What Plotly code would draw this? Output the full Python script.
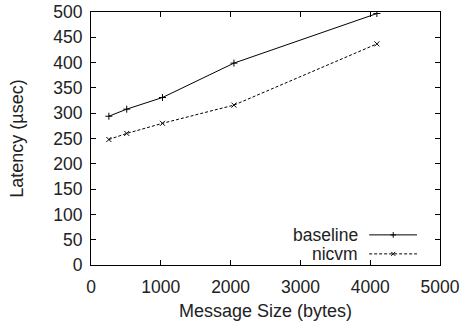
import plotly.graph_objects as go

sizes = [256, 512, 1024, 2048, 4096]
baseline = [294, 308, 331, 399, 497]
nicvm = [248, 260, 280, 316, 437]
series_names = ["baseline", "nicvm"]

FONT = "Liberation Sans, Arial, sans-serif"
FS = 17.5
FT = 18

fig = go.Figure()
fig.add_trace(go.Scatter(x=sizes, y=baseline, mode="lines+markers", name=series_names[0],
                         line=dict(color="black", width=1),
                         marker=dict(symbol="cross-thin", size=5, line=dict(color="black", width=1))))
fig.add_trace(go.Scatter(x=sizes, y=nicvm, mode="lines+markers", name=series_names[1],
                         line=dict(color="black", width=1, dash="3px,2px"),
                         marker=dict(symbol="x-thin", size=5, line=dict(color="black", width=1))))

# gnuplot-style legend (text left, sample right) on an overlay axis in [0,1]
leg_y = [0.119, 0.044]
dashes = ["solid", "3px,2px"]
symbols = ["cross-thin", "x-thin"]
for i, name in enumerate(series_names):
    fig.add_trace(go.Scatter(x=[0.797, 0.934], y=[leg_y[i]] * 2, xaxis="x2", yaxis="y2",
                             mode="lines", showlegend=False, hoverinfo="skip",
                             line=dict(color="black", width=1, dash=dashes[i])))
    fig.add_trace(go.Scatter(x=[0.866], y=[leg_y[i]], xaxis="x2", yaxis="y2",
                             mode="markers", showlegend=False, hoverinfo="skip",
                             marker=dict(symbol=symbols[i], size=4, line=dict(color="black", width=1))))
    fig.add_annotation(x=0.772, y=leg_y[i], xref="x2", yref="y2", text=name, showarrow=False,
                       xanchor="right", yanchor="middle", font=dict(family=FONT, size=FS, color="#222"))

axis_common = dict(showgrid=False, zeroline=False, showline=True, linecolor="black", linewidth=1,
                   mirror="ticks", ticks="inside", ticklen=5, tickcolor="black", automargin=False,
                   tickfont=dict(family=FONT, size=FS, color="#222"))
fig.update_layout(
    width=463, height=327,
    margin=dict(l=91, r=23, t=12, b=62),
    paper_bgcolor="white", plot_bgcolor="white",
    showlegend=False,
    xaxis=dict(range=[0, 5000], dtick=1000, ticklabelstandoff=6,
               title=dict(text="Message Size (bytes)", standoff=8,
                          font=dict(family=FONT, size=FT, color="#222")), **axis_common),
    yaxis=dict(range=[0, 500], dtick=50, ticklabelstandoff=4,
               title=dict(text="Latency (µsec)", standoff=24,
                          font=dict(family=FONT, size=FT, color="#222")), **axis_common),
    xaxis2=dict(range=[0, 1], overlaying="x", visible=False),
    yaxis2=dict(range=[0, 1], overlaying="y", visible=False),
)

fig.write_html("out.html")
